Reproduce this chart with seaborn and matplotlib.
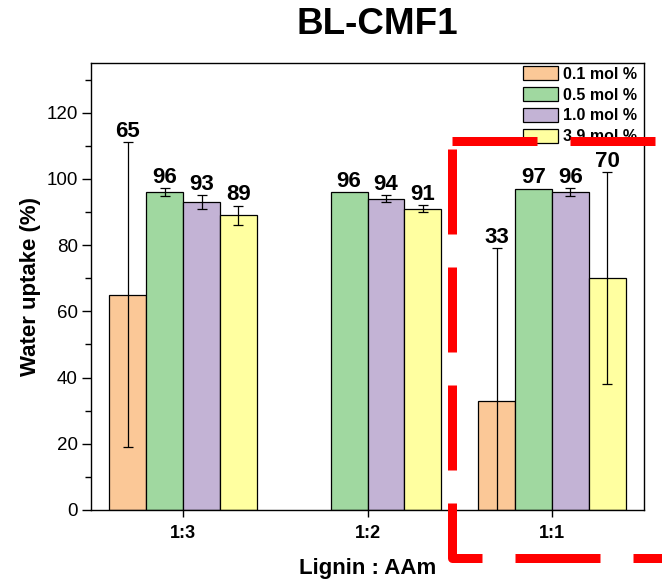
import numpy as np
import pandas as pd
import matplotlib
matplotlib.use("Agg")
import matplotlib.pyplot as plt
from matplotlib.patches import Patch
from matplotlib.lines import Line2D
from matplotlib.ticker import MultipleLocator
from matplotlib.colors import to_hex
import seaborn as sns

# ---- data ----
ratios = ["1:3", "1:2", "1:1"]
concentrations = ["0.1 mol %", "0.5 mol %", "1.0 mol %", "3.9 mol %"]
uptake_01 = [65, np.nan, 33]
uptake_05 = [96, 96, 97]
uptake_10 = [93, 94, 96]
uptake_39 = [89, 91, 70]
err_01 = [46, 0, 46]
err_05 = [1.2, 0, 0]
err_10 = [2.1, 1.0, 1.1]
err_39 = [2.9, 1.0, 32]
colors = ["#FBC897", "#A0D8A0", "#C3B3D5", "#FFFFA0"]

values = [uptake_01, uptake_05, uptake_10, uptake_39]
errors = [err_01, err_05, err_10, err_39]
rows = []
for c, vals, errs in zip(concentrations, values, errors):
    for r, v, e in zip(ratios, vals, errs):
        rows.append({"ratio": r, "conc": c, "uptake": v, "err": e})
df = pd.DataFrame(rows)

sns.set_theme(style="ticks")
plt.rcParams["font.family"] = ["Liberation Sans", "DejaVu Sans"]
plt.rcParams["text.color"] = "black"
plt.rcParams["axes.labelcolor"] = "black"
plt.rcParams["xtick.color"] = "black"
plt.rcParams["ytick.color"] = "black"

W, H = 662, 581
fig = plt.figure(figsize=(W / 100, H / 100), dpi=100)
ax = fig.add_axes([91 / W, 1 - 510 / H, (644 - 91) / W, (510 - 63) / H])

palette = dict(zip(concentrations, colors))
sns.barplot(data=df.dropna(subset=["uptake"]), x="ratio", y="uptake", hue="conc",
            order=ratios, hue_order=concentrations, palette=palette,
            errorbar=None, edgecolor="black", linewidth=0.9, width=0.8,
            saturation=1, legend=False, ax=ax)

# error bars and value labels, positioned from the drawn bars
lookup = {(r["conc"], r["ratio"]): (r["uptake"], r["err"]) for r in rows}
color_to_conc = {to_hex(c).lower(): k for k, c in palette.items()}
for bar in list(ax.patches):
    h = bar.get_height()
    if not np.isfinite(h) or h == 0:
        continue
    conc = color_to_conc.get(to_hex(bar.get_facecolor()).lower())
    if conc is None:
        continue
    xc = bar.get_x() + bar.get_width() / 2
    ri = int(round(xc))
    v, e = lookup[(conc, ratios[ri])]
    if e > 0:
        ax.errorbar(xc, v, yerr=e, fmt="none", ecolor="black",
                    elinewidth=0.9, capsize=3.6, capthick=0.9, zorder=5)
    ax.annotate(f"{v:.0f}", (xc, v + e), xytext=(0, 4),
                textcoords="offset points", ha="center", va="baseline",
                fontsize=16, fontweight="bold", color="black")

ax.set_xlim(-0.5, 2.5)
ax.set_ylim(0, 135)
ax.yaxis.set_major_locator(MultipleLocator(20))
ax.yaxis.set_minor_locator(MultipleLocator(10))
ax.set_yticks([0, 20, 40, 60, 80, 100, 120])
for s in ax.spines.values():
    s.set_visible(True)
    s.set_linewidth(1.0)
    s.set_color("black")
ax.tick_params(axis="y", which="major", direction="out", length=6.5, width=1,
               labelsize=13.5, colors="black", pad=3)
ax.tick_params(axis="y", which="minor", direction="out", length=4, width=1,
               left=True)
ax.tick_params(axis="x", direction="out", length=5, width=1, labelsize=13,
               colors="black", pad=6)
for lab in ax.get_xticklabels():
    lab.set_fontweight("bold")
ax.set_xlabel("Lignin : AAm", fontsize=16, fontweight="bold", labelpad=11)
ax.set_ylabel("Water uptake (%)", fontsize=16, fontweight="bold", labelpad=4)

fig.text(377 / W, 1 - 24 / H, "BL-CMF1", ha="center", va="center",
         fontsize=26.5, fontweight="bold", color="black")

handles = [Patch(facecolor=c, edgecolor="black", linewidth=0.9) for c in colors]
ax.legend(handles, concentrations, loc="upper left",
          bbox_to_anchor=(523 / W, 1 - 66 / H), bbox_transform=fig.transFigure,
          frameon=False, prop={"weight": "bold", "size": 11.5},
          handlelength=2.2, handleheight=1.0, handletextpad=0.3,
          labelspacing=0.33, borderpad=0, borderaxespad=0)

# red dashed highlight overlay
lw_px = 9
lw_pt = lw_px * 72 / 100
dash = (85 / lw_px, 33 / lw_px)
def fx(x):
    return x / W
def fy(y):
    return 1 - y / H
top = Line2D([fx(452), fx(680)], [fy(141), fy(141)], transform=fig.transFigure,
             color="#FF0000", lw=lw_pt, dashes=dash, solid_capstyle="butt",
             dash_capstyle="butt", zorder=10)
side = Line2D([fx(452), fx(452), fx(700)], [fy(149), fy(558), fy(558)],
              transform=fig.transFigure, color="#FF0000", lw=lw_pt, dashes=dash,
              dash_capstyle="butt", dash_joinstyle="round", zorder=10)
fig.add_artist(top)
fig.add_artist(side)

fig.savefig("out.png", dpi=100)
